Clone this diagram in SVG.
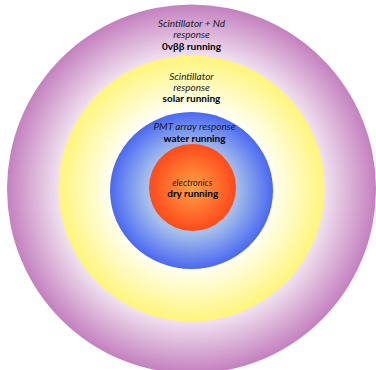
<svg xmlns="http://www.w3.org/2000/svg" width="376" height="370" viewBox="0 0 376 370">
<style>
text{font-family:Lato,"Open Sans","Liberation Sans",sans-serif;font-size:10px;text-anchor:middle;fill:#1a1a1a}
.i{font-style:italic}
.b{font-weight:bold;fill:#000}
</style>
<defs>
<radialGradient id="gP" cx="0.5" cy="0.5" r="0.5">
<stop offset="0" stop-color="#ffffff"/>
<stop offset="0.7" stop-color="#f4e8f3"/>
<stop offset="1" stop-color="#c480bf"/>
</radialGradient>
<radialGradient id="gY" cx="0.5" cy="0.5" r="0.5">
<stop offset="0" stop-color="#ffffff"/>
<stop offset="0.6" stop-color="#fffff3"/>
<stop offset="1" stop-color="#fff57a"/>
</radialGradient>
<radialGradient id="gB" cx="0.5" cy="0.5" r="0.5">
<stop offset="0" stop-color="#c8dcf0"/>
<stop offset="0.55" stop-color="#a6c0ea"/>
<stop offset="1" stop-color="#4a68f2"/>
</radialGradient>
<radialGradient id="gO" cx="0.5" cy="0.5" r="0.5">
<stop offset="0" stop-color="#ffa246"/>
<stop offset="1" stop-color="#ff4a1a"/>
</radialGradient>
</defs>
<g id="outer">
<circle cx="191.5" cy="189" r="184.5" fill="url(#gP)"/>
<text x="191.5" y="26.5" class="i">Scintillator + Nd</text>
<text x="191.5" y="37.5" class="i">response</text>
<text x="191.5" y="50" class="b">0vββ running</text>
</g>
<g id="scintillator">
<circle cx="191.5" cy="188.5" r="133" fill="url(#gY)"/>
<text x="191.5" y="79.5" class="i">Scintillator</text>
<text x="191.5" y="90.5" class="i">response</text>
<text x="191.5" y="102" class="b">solar running</text>
</g>
<g id="pmt">
<ellipse cx="191.5" cy="190.5" rx="81.5" ry="78.5" fill="url(#gB)"/>
<text x="194.5" y="129.5" class="i">PMT array response</text>
<text x="194.5" y="141.5" class="b">water running</text>
</g>
<g id="electronics">
<circle cx="192.5" cy="187.5" r="43.5" fill="url(#gO)"/>
<text x="192.3" y="185.5" class="i" style="font-size:9px">electronics</text>
<text x="192.7" y="196.5" class="b">dry running</text>
</g>
<g id="connectors"/>
</svg>
